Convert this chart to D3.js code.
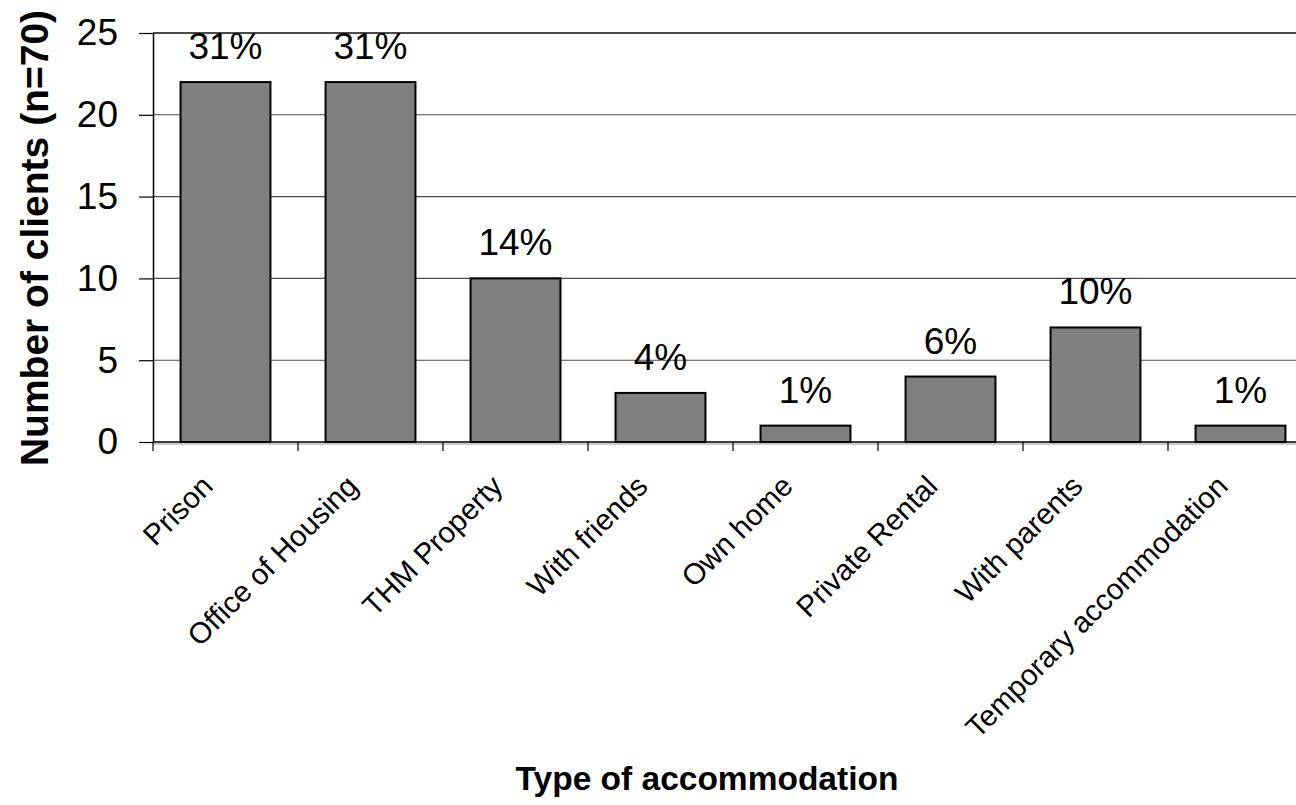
<!DOCTYPE html>
<html>
<head>
<meta charset="utf-8">
<script src="https://cdn.jsdelivr.net/npm/d3@7"></script>
<style>
  html, body { margin: 0; padding: 0; background: #fff; overflow: hidden; }
  svg { display: block; font-family: Arial, "Liberation Sans", sans-serif; }
</style>
</head>
<body>
<svg id="chart" width="1296" height="805"></svg>
<script>
// Accommodation of clients (n = 70)
const categories = ["Prison", "Office of Housing", "THM Property", "With friends",
                    "Own home", "Private Rental", "With parents", "Temporary accommodation"];
const counts = [22, 22, 10, 3, 1, 4, 7, 1];
const percentLabels = ["31%", "31%", "14%", "4%", "1%", "6%", "10%", "1%"];
const yTicks = [0, 5, 10, 15, 20, 25];

const svg = d3.select("#chart");
const plotLeft = 153, plotRight = 1313, plotTop = 33, plotBottom = 442;

const x = d3.scaleBand().domain(categories).range([plotLeft, plotRight])
  .paddingInner(0.38).paddingOuter(0.19);
const xStep = d3.scaleBand().domain(categories).range([plotLeft, plotRight]).padding(0);
const y = d3.scaleLinear().domain([0, 25]).range([plotBottom, plotTop]);

// horizontal gridlines
svg.append("g").selectAll("line").data(yTicks.filter(d => d > 0)).join("line")
  .attr("x1", plotLeft).attr("x2", plotRight)
  .attr("y1", d => y(d)).attr("y2", d => y(d))
  .attr("stroke", "#4a4a4a").attr("stroke-width", d => d === 25 ? 2 : 1.1);

// bars
svg.append("g").selectAll("rect").data(categories).join("rect")
  .attr("x", d => x(d))
  .attr("width", x.bandwidth())
  .attr("y", (d, i) => y(counts[i]))
  .attr("height", (d, i) => y(0) - y(counts[i]))
  .attr("fill", "#808080")
  .attr("stroke", "#000")
  .attr("stroke-width", 2);

// percentage labels above bars
svg.append("g").selectAll("text").data(categories).join("text")
  .attr("x", d => x(d) + x.bandwidth() / 2)
  .attr("y", (d, i) => y(counts[i]) - 23)
  .attr("text-anchor", "middle")
  .attr("font-size", 37)
  .attr("fill", "#000")
  .text((d, i) => percentLabels[i]);

// y axis
const yAxis = svg.append("g").attr("transform", `translate(${plotLeft},0)`)
  .call(d3.axisLeft(y).tickValues(yTicks).tickSize(14).tickPadding(21).tickSizeOuter(0));
yAxis.select(".domain").attr("stroke", "#000").attr("stroke-width", 1.5);
yAxis.selectAll(".tick line").attr("stroke", "#000").attr("stroke-width", 1.2);
yAxis.selectAll(".tick text")
  .attr("font-size", 37).attr("fill", "#000")
  .attr("font-family", "Arial, 'Liberation Sans', sans-serif");

// x axis: ticks between categories
const bounds = categories.map(c => xStep(c)).concat([plotRight]);
const xAxisG = svg.append("g");
xAxisG.append("line")
  .attr("x1", plotLeft).attr("x2", plotRight).attr("y1", plotBottom).attr("y2", plotBottom)
  .attr("stroke", "#000").attr("stroke-width", 1.5);
xAxisG.append("line")
  .attr("x1", plotLeft).attr("x2", plotRight).attr("y1", plotBottom + 2).attr("y2", plotBottom + 2)
  .attr("stroke", "#999").attr("stroke-width", 1.2);
xAxisG.selectAll("line.tk").data(bounds).join("line").attr("class", "tk")
  .attr("x1", d => d).attr("x2", d => d)
  .attr("y1", plotBottom).attr("y2", plotBottom + 9)
  .attr("stroke", "#000").attr("stroke-width", 1.2);

// rotated category labels
svg.append("g").selectAll("text").data(categories).join("text")
  .attr("transform", d => `translate(${xStep(d) + xStep.bandwidth() / 2 - 11},${plotBottom + 46}) rotate(-45)`)
  .attr("text-anchor", "end")
  .attr("font-size", 29.5)
  .attr("fill", "#000")
  .text(d => d);

// axis titles
svg.append("text")
  .attr("transform", `translate(48,238) rotate(-90)`)
  .attr("text-anchor", "middle")
  .attr("font-size", 39).attr("font-weight", "bold")
  .text("Number of clients (n=70)");

svg.append("text")
  .attr("x", 707).attr("y", 790)
  .attr("text-anchor", "middle")
  .attr("font-size", 33.5).attr("font-weight", "bold")
  .text("Type of accommodation");
</script>
</body>
</html>
